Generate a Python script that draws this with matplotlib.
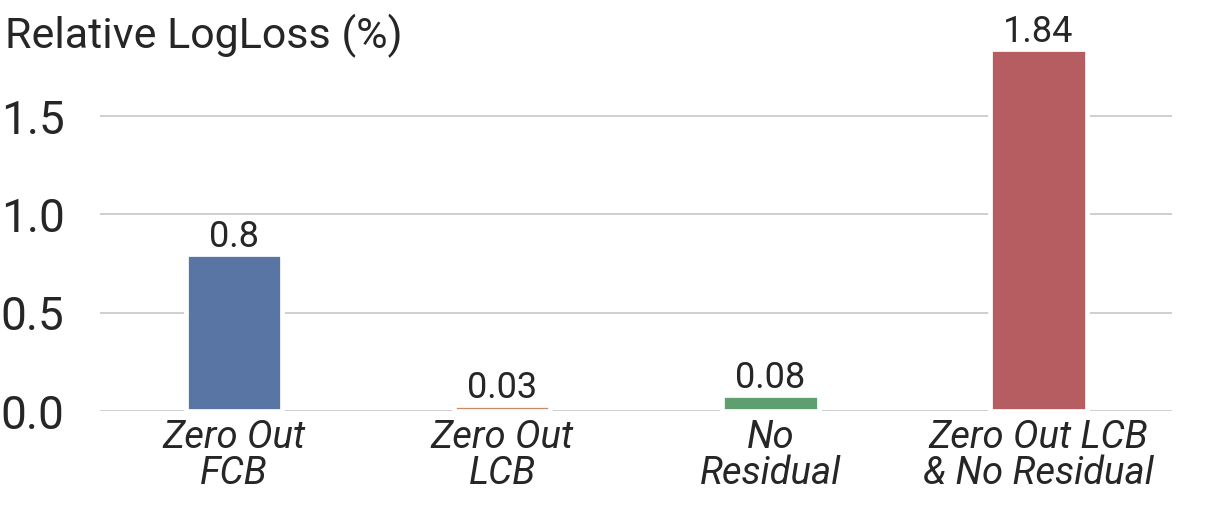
import matplotlib
matplotlib.use("Agg")
import matplotlib.pyplot as plt

plt.rcParams["font.family"] = ["Roboto", "DejaVu Sans"]

categories = ["Zero Out\nFCB", "Zero Out\nLCB", "No\nResidual", "Zero Out LCB\n& No Residual"]
values = [0.8, 0.03, 0.08, 1.84]
value_labels = ["0.8", "0.03", "0.08", "1.84"]
colors = ["#5975A4", "#CC8963", "#5F9E6E", "#B55D60"]
yticks = [0.0, 0.5, 1.0, 1.5]

text_color = "#262626"

fig = plt.figure(figsize=(12.25, 5.2), dpi=100)
ax = fig.add_axes([0.0816, 0.2096, 0.8755, 0.7184])

x = range(len(categories))
bars = ax.bar(x, values, width=0.36, color=colors, edgecolor="white", linewidth=3.4, zorder=3)

for bar, label in zip(bars, value_labels):
    ax.annotate(
        label,
        (bar.get_x() + bar.get_width() / 2, bar.get_height()),
        xytext=(0, 5),
        textcoords="offset points",
        ha="center",
        va="baseline",
        fontsize=26,
        color=text_color,
    )

ax.set_xlim(-0.5, 3.5)
ax.set_ylim(0, 1.9)
ax.set_yticks(yticks)
ax.set_yticklabels([f"{t:.1f}" for t in yticks], fontsize=33, color=text_color)
ax.set_xticks(list(x))
ax.set_xticklabels(categories, fontsize=27.5, style="italic", color=text_color, linespacing=0.95)
ax.tick_params(axis="y", length=0, pad=25.5)
ax.tick_params(axis="x", length=0, pad=6)

ax.grid(axis="y", color="#cccccc", linewidth=1.3, zorder=0)
ax.set_axisbelow(True)
for spine in ax.spines.values():
    spine.set_visible(False)

fig.text(0.004, 0.908, "Relative LogLoss (%)", fontsize=31, color=text_color, ha="left", va="baseline")

fig.savefig("out.png", dpi=100)
